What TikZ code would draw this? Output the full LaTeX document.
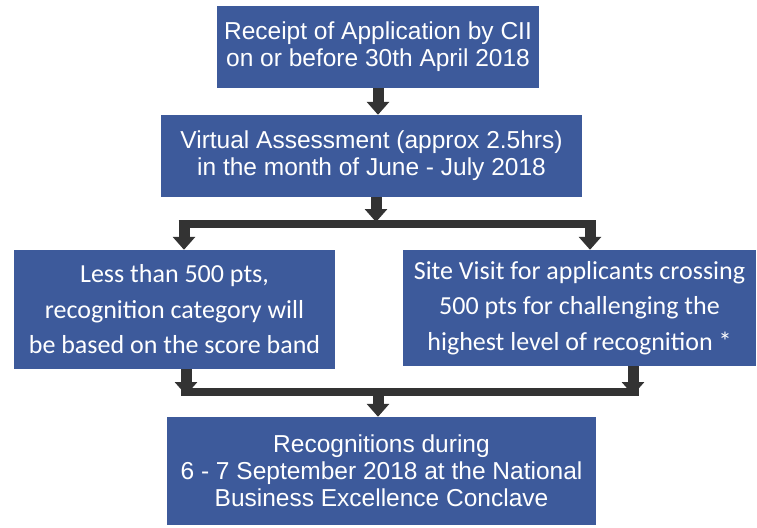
\documentclass[tikz,border=0pt]{standalone}
\usepackage{fontspec}
\setmainfont{Liberation Sans}
\newfontfamily\calib{Carlito}
\usetikzlibrary{arrows.meta}
\definecolor{boxblue}{HTML}{3D5A9B}
\definecolor{arrgray}{HTML}{333333}
\tikzset{
  box/.style={fill=boxblue, draw=none, text=white, align=center, inner sep=0pt},
  arialtxt/.style={font=\fontsize{24.5}{27}\selectfont},
  calibtxt/.style={font=\calib\fontsize{26}{35.5}\selectfont},
  arr/.style={draw=arrgray, line width=11pt, -{Triangle[length=13pt,width=22pt]}},
  bar/.style={draw=arrgray, line width=8pt}
}
\begin{document}
\begin{tikzpicture}[x=1pt,y=-1pt]
\path[use as bounding box] (0,0) rectangle (757,527);
\node[box, arialtxt, minimum width=322pt, minimum height=82pt] (b1) at (378,47) {Receipt of Application by CII\\on or before 30th April 2018};
\node[box, arialtxt, minimum width=421pt, minimum height=82pt] (b2) at (371.5,156) {Virtual Assessment (approx 2.5hrs)\\in the month of June - July 2018};
\node[box, calibtxt, minimum width=321pt, minimum height=119pt] (b3) at (174.5,309.5) {Less than 500 pts,\\recognition category will\\be based on the score band};
\node[box, calibtxt, minimum width=353pt, minimum height=116pt] (b4) at (579.5,308) {Site Visit for applicants crossing\\500 pts for challenging the\\highest level of recognition *};
\node[box, arialtxt, minimum width=429pt, minimum height=108pt] (b5) at (381.5,471) {Recognitions during\\6 - 7 September 2018 at the National\\Business Excellence Conclave};
% coordinates
\coordinate (s1) at (376,224);
\coordinate (sl) at (184,224);
\coordinate (sr) at (590,224);
\coordinate (j1) at (378,392);
\coordinate (jl) at (186,392);
\coordinate (jr) at (633,392);
% arrows
\draw[arr] (b1.south -| 378,0) -- (b2.north -| 378,0);
\draw[bar] ([xshift=-5.5pt]sl) -- ([xshift=5.5pt]sr);
\draw[arr] (b2.south -| s1) -- ([yshift=2pt]s1);
\draw[arr] ([yshift=-4pt]sl) -- (b3.north -| sl);
\draw[arr] ([yshift=-4pt]sr) -- (b4.north -| sr);
\draw[arr] (b3.south -| jl) -- ([yshift=-3pt]jl);
\draw[arr] (b4.south -| jr) -- ([yshift=-3pt]jr);
\draw[bar] ([xshift=-5.5pt]jl) -- ([xshift=5.5pt]jr);
\draw[arr] ([yshift=-4pt]j1) -- (b5.north -| j1);
\end{tikzpicture}
\end{document}
